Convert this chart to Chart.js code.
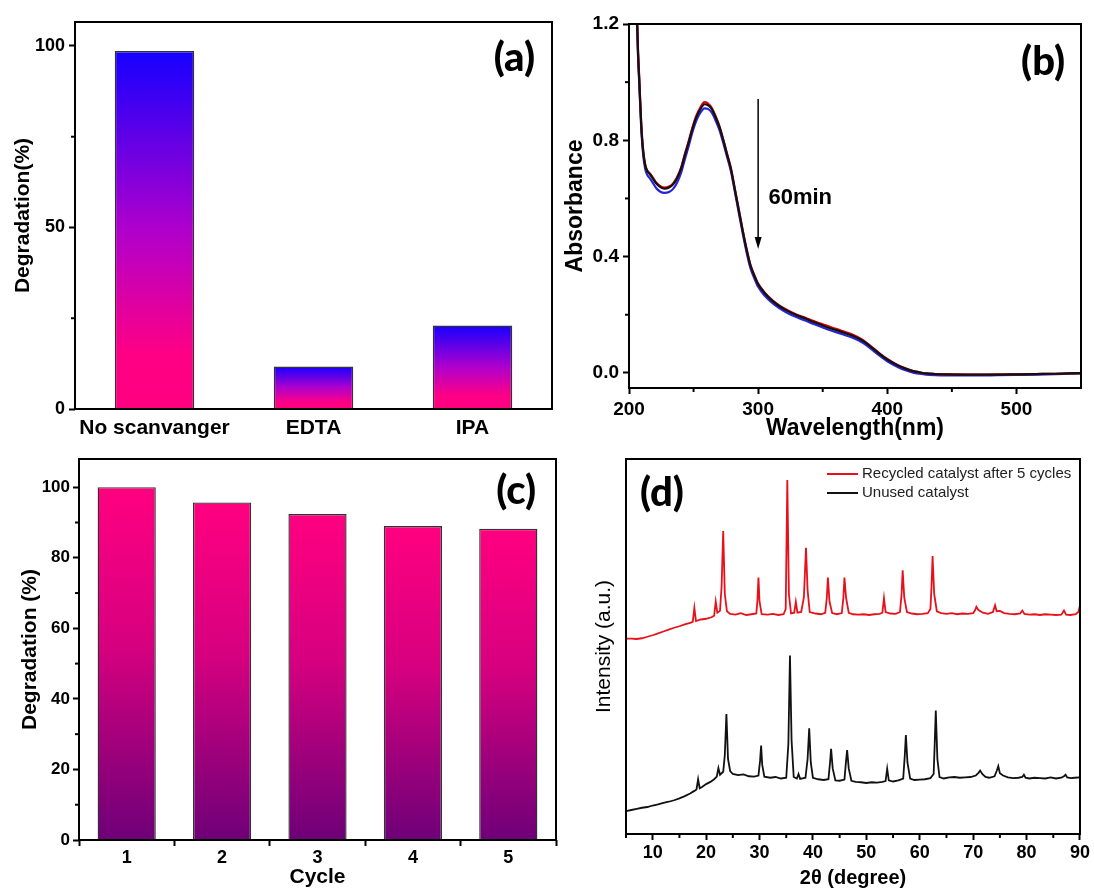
<!DOCTYPE html>
<html>
<head>
<meta charset="utf-8">
<script src="https://cdn.jsdelivr.net/npm/chart.js@4.4.0/dist/chart.umd.min.js"></script>
<style>
  body { margin: 0; background: #fff; }
  #fig { position: relative; width: 1094px; height: 888px; }
  canvas { position: absolute; }
</style>
</head>
<body>
<div id="fig">
  <canvas id="panelA" width="560" height="445" style="left:0;top:0"></canvas>
  <canvas id="panelB" width="534" height="445" style="left:560px;top:0"></canvas>
  <canvas id="panelC" width="560" height="443" style="left:0;top:445px"></canvas>
  <canvas id="panelD" width="534" height="443" style="left:560px;top:445px"></canvas>
</div>
<script>
// (a) scavenger test
const scavengerLabels = ["No scanvanger", "EDTA", "IPA"];
const scavengerDegradation = [98.6, 11.7, 23.0];
const scavengerTicks = [0, 50, 100];
const scavengerMinor = [25, 75];

// (b) UV-vis spectra
const wavelength = [205, 207, 208, 209.5, 211, 212.5, 214, 216, 218, 221, 224, 227.5, 231, 234, 237, 240.5, 243, 246, 249, 252, 255, 258.5, 261, 264, 267, 270, 273, 276, 279, 282, 285, 288, 291, 294, 297, 300, 305, 310, 316, 322, 330, 337, 343, 350, 357, 364, 370, 375, 380, 385, 390, 395, 400, 405, 410, 415, 420, 425, 430, 437, 445, 455, 470, 485, 500, 515, 530, 540, 550];
const absBlack = [1.40, 1.10, 1.00, 0.85, 0.76, 0.715, 0.695, 0.684, 0.672, 0.652, 0.640, 0.634, 0.638, 0.648, 0.668, 0.705, 0.745, 0.790, 0.838, 0.878, 0.905, 0.924, 0.921, 0.908, 0.880, 0.846, 0.800, 0.750, 0.700, 0.630, 0.560, 0.490, 0.425, 0.370, 0.335, 0.305, 0.275, 0.252, 0.231, 0.215, 0.198, 0.186, 0.175, 0.163, 0.152, 0.142, 0.133, 0.124, 0.113, 0.098, 0.080, 0.062, 0.046, 0.033, 0.022, 0.013, 0.006, 0.002, -0.002, -0.004, -0.005, -0.006, -0.006, -0.006, -0.005, -0.004, -0.003, -0.002, -0.001];
const absRed = [1.41, 1.11, 1.01, 0.855, 0.765, 0.718, 0.697, 0.687, 0.675, 0.655, 0.643, 0.637, 0.641, 0.651, 0.671, 0.708, 0.749, 0.794, 0.842, 0.883, 0.911, 0.931, 0.927, 0.912, 0.884, 0.849, 0.803, 0.753, 0.702, 0.632, 0.562, 0.492, 0.427, 0.372, 0.337, 0.307, 0.277, 0.254, 0.233, 0.217, 0.200, 0.189, 0.178, 0.167, 0.156, 0.146, 0.137, 0.128, 0.116, 0.100, 0.082, 0.064, 0.048, 0.034, 0.023, 0.014, 0.006, 0.002, -0.002, -0.004, -0.005, -0.005, -0.006, -0.005, -0.005, -0.004, -0.003, -0.002, -0.001];
const absBlue = [1.39, 1.09, 0.99, 0.84, 0.75, 0.703, 0.682, 0.670, 0.657, 0.636, 0.624, 0.619, 0.622, 0.632, 0.652, 0.690, 0.731, 0.777, 0.826, 0.866, 0.893, 0.910, 0.908, 0.896, 0.869, 0.836, 0.791, 0.742, 0.692, 0.622, 0.551, 0.481, 0.416, 0.361, 0.326, 0.296, 0.266, 0.244, 0.224, 0.208, 0.191, 0.179, 0.168, 0.156, 0.145, 0.135, 0.126, 0.117, 0.106, 0.091, 0.073, 0.056, 0.040, 0.027, 0.016, 0.008, 0.001, -0.003, -0.006, -0.008, -0.009, -0.009, -0.009, -0.008, -0.007, -0.006, -0.004, -0.003, -0.002];
const wavelengthTicks = [200, 300, 400, 500];
const wavelengthMinor = [250, 350, 450];
const absTicks = [0, 0.4, 0.8, 1.2];
const absMinor = [0.2, 0.6, 1.0];

// (c) recycling
const cycleLabels = ["1", "2", "3", "4", "5"];
const cycleDegradation = [100, 95.7, 92.4, 89.0, 88.2];
const cycleTicks = [0, 20, 40, 60, 80, 100];
const cycleMinor = [10, 30, 50, 70, 90];

// (d) XRD, [2theta, intensity a.u.]
const xrdRecycled = [[5, 52.1], [6, 52.1], [7, 52.0], [8, 52.2], [9, 52.6], [10, 53.0], [11, 53.5], [12, 54.0], [13, 54.5], [14, 55.0], [15, 55.4], [16, 55.9], [17, 56.3], [17.5, 56.6], [17.8, 60.3], [18.1, 56.8], [19, 57.2], [20, 57.4], [21, 57.8], [21.5, 58.2], [21.8, 62.0], [22.1, 59.0], [22.6, 59.5], [22.9, 66], [23.2, 80.8], [23.5, 64], [23.9, 59.4], [24.5, 58.7], [25.5, 58.5], [26.5, 58.9], [27.5, 58.4], [28.5, 58.6], [29.4, 58.8], [29.6, 62], [29.8, 68.4], [30.0, 62], [30.4, 58.6], [31.5, 58.5], [32.5, 58.7], [33.5, 58.4], [34.5, 58.6], [34.9, 60], [35.2, 94.4], [35.5, 64], [35.9, 58.8], [36.5, 59.0], [36.8, 61.9], [37.1, 59.0], [37.8, 59.2], [38.3, 63], [38.7, 76.3], [39.0, 65], [39.4, 59.2], [40.5, 58.8], [41.5, 58.6], [42.3, 59.0], [42.6, 63], [42.8, 68.4], [43.1, 62], [43.6, 58.9], [44.5, 58.6], [45.4, 58.9], [45.7, 63], [45.9, 68.4], [46.2, 63], [46.7, 59.0], [47.5, 58.6], [48.5, 58.5], [49.5, 58.6], [50.5, 58.4], [51.5, 58.6], [52.5, 58.7], [53.0, 59.0], [53.3, 62.9], [53.6, 59.2], [54.5, 58.8], [55.5, 58.7], [56.3, 59.2], [56.6, 64], [56.8, 70.3], [57.1, 63], [57.6, 59.2], [58.5, 58.8], [59.5, 58.6], [60.5, 58.7], [61.5, 58.9], [62.0, 60], [62.2, 66], [62.4, 74.1], [62.7, 64], [63.2, 59.4], [64.0, 58.9], [65, 58.7], [66, 58.9], [67, 58.6], [68, 58.8], [69, 58.7], [70, 58.9], [70.4, 59.8], [70.6, 60.6], [71.0, 59.7], [71.8, 59.0], [72.8, 58.7], [73.7, 59.2], [74.1, 61.0], [74.4, 59.4], [75.0, 59.5], [75.8, 58.9], [76.8, 58.7], [77.8, 58.6], [78.8, 58.8], [79.2, 59.6], [79.6, 58.7], [80.5, 58.5], [81.5, 58.6], [82.5, 58.4], [83.5, 58.6], [84.5, 58.5], [85.5, 58.4], [86.5, 58.5], [87.0, 59.6], [87.4, 58.5], [88.2, 58.4], [89.2, 58.6], [89.7, 59.2], [90, 61.0]];
const xrdUnused = [[5, 6.1], [6, 6.4], [7, 6.7], [8, 7.0], [9, 7.2], [10, 7.6], [11, 7.9], [12, 8.3], [13, 8.6], [14, 9.0], [15, 9.5], [16, 10.1], [17, 10.8], [17.8, 11.5], [18.2, 11.9], [18.5, 14.6], [18.8, 12.2], [19.3, 12.6], [20, 13.3], [20.8, 13.9], [21.5, 14.6], [22.0, 15.3], [22.3, 17.6], [22.6, 15.8], [23.2, 16.6], [23.5, 21], [23.8, 32.0], [24.1, 20], [24.5, 16.8], [25, 16.0], [26, 15.7], [27, 15.9], [28, 15.4], [29, 15.3], [29.8, 15.6], [30.1, 19.5], [30.3, 23.6], [30.5, 18.5], [30.9, 15.3], [32, 15.0], [33, 15.2], [34, 14.8], [35.0, 15.0], [35.4, 24], [35.7, 47.6], [36.0, 25], [36.4, 15.2], [37.0, 14.8], [37.3, 16.0], [37.6, 14.7], [38.6, 15.0], [39.0, 20], [39.3, 28.2], [39.6, 19], [40.0, 15.0], [41, 14.6], [42, 14.4], [42.9, 14.6], [43.2, 19], [43.4, 22.7], [43.7, 17.5], [44.2, 14.3], [45, 14.2], [45.9, 14.5], [46.2, 19.5], [46.4, 22.4], [46.7, 17.5], [47.2, 14.2], [48, 13.9], [49, 13.8], [50, 13.6], [51, 13.8], [52, 13.7], [53, 13.9], [53.6, 14.1], [53.9, 17.4], [54.2, 14.3], [55, 14.0], [56, 14.3], [56.9, 14.8], [57.2, 21], [57.4, 26.4], [57.7, 19], [58.2, 14.8], [59, 14.4], [60, 14.5], [61, 14.6], [62, 14.9], [62.6, 16], [62.8, 24], [63.0, 32.9], [63.3, 20], [63.7, 15.2], [64.5, 14.8], [65.5, 15.1], [66.5, 15.2], [67.5, 15.0], [68.5, 15.1], [69.5, 15.2], [70.5, 15.6], [71.0, 16.3], [71.3, 16.9], [71.7, 16.0], [72.3, 15.2], [73, 15.0], [74, 15.4], [74.4, 16.8], [74.7, 18.1], [75.0, 16.2], [75.6, 15.6], [76.5, 15.1], [77.5, 14.9], [78.5, 15.0], [79.2, 15.2], [79.5, 15.8], [79.8, 15.0], [80.5, 14.8], [81.5, 15.0], [82.5, 14.9], [83.5, 14.8], [84.5, 15.1], [85.5, 14.8], [86.5, 15.0], [87.0, 15.4], [87.3, 15.8], [87.6, 15.1], [88.3, 14.9], [89, 15.0], [90, 15.1]];
const thetaTicks = [10, 20, 30, 40, 50, 60, 70, 80, 90];
const thetaMinor = [5, 15, 25, 35, 45, 55, 65, 75, 85];

Chart.defaults.font.family = '"Liberation Sans", Arial, sans-serif';
Chart.defaults.color = "#000";

const bold = (size) => ({ size: size, weight: "bold", lineHeight: 1 });
const setTicks = (values) => (scale) => { scale.ticks = values.map(v => ({ value: v })); };

// per-bar vertical gradient, top colour at the bar top
function barGradient(stops) {
    return function (ctx) {
        const last = stops[stops.length - 1][1];
        if (ctx.type !== "data" || !ctx.chart.chartArea) return last;
        const y = ctx.chart.scales.y;
        const top = y.getPixelForValue(ctx.raw);
        const base = y.getPixelForValue(0);
        const g = ctx.chart.ctx.createLinearGradient(0, top, 0, base);
        stops.forEach(s => g.addColorStop(s[0], s[1]));
        return g;
    };
}

const frame = {
    id: "frame",
    afterDraw(chart) {
        const { ctx, chartArea: a } = chart;
        ctx.save();
        ctx.strokeStyle = "#000";
        ctx.lineWidth = 2;
        ctx.strokeRect(a.left, a.top, a.right - a.left, a.bottom - a.top);
        ctx.restore();
    }
};

const minorTicks = {
    id: "minorTicks",
    afterDraw(chart, args, opts) {
        const { ctx, chartArea: a, scales } = chart;
        ctx.save();
        ctx.strokeStyle = "#000";
        ctx.lineWidth = 2;
        (opts.x || []).forEach(v => {
            const px = scales.x.getPixelForValue(v);
            ctx.beginPath();
            ctx.moveTo(px, a.bottom);
            ctx.lineTo(px, a.bottom + 4);
            ctx.stroke();
        });
        (opts.y || []).forEach(v => {
            const py = scales.y.getPixelForValue(v);
            ctx.beginPath();
            ctx.moveTo(a.left, py);
            ctx.lineTo(a.left - 4, py);
            ctx.stroke();
        });
        ctx.restore();
    }
};

const panelLabel = {
    id: "panelLabel",
    afterDraw(chart, args, opts) {
        const { ctx, chartArea: a } = chart;
        ctx.save();
        ctx.font = "900 40px Lato, 'Open Sans', sans-serif";
        ctx.fillStyle = "#000";
        ctx.textBaseline = "middle";
        if (opts.side === "left") {
            ctx.textAlign = "left";
            ctx.fillText(opts.text, a.left + opts.dx, a.top + opts.dy);
        } else {
            ctx.textAlign = "right";
            ctx.fillText(opts.text, a.right - opts.dx, a.top + opts.dy);
        }
        ctx.restore();
    }
};

// arrow + "60min" in (b)
const arrowNote = {
    id: "arrowNote",
    afterDatasetsDraw(chart, args, opts) {
        const { ctx, scales } = chart;
        const px = scales.x.getPixelForValue(opts.at);
        const y0 = scales.y.getPixelForValue(opts.from);
        const y1 = scales.y.getPixelForValue(opts.to);
        ctx.save();
        ctx.strokeStyle = "#000";
        ctx.fillStyle = "#000";
        ctx.lineWidth = 1.5;
        ctx.beginPath();
        ctx.moveTo(px, y0);
        ctx.lineTo(px, y1 - 8);
        ctx.stroke();
        ctx.beginPath();
        ctx.moveTo(px - 3.5, y1 - 12);
        ctx.lineTo(px + 3.5, y1 - 12);
        ctx.lineTo(px, y1);
        ctx.closePath();
        ctx.fill();
        ctx.font = 'bold 22px "Liberation Sans", Arial, sans-serif';
        ctx.textBaseline = "middle";
        ctx.fillText(opts.text, scales.x.getPixelForValue(opts.textX), scales.y.getPixelForValue(opts.textY));
        ctx.restore();
    }
};

const lineLegend = {
    id: "lineLegend",
    afterDraw(chart, args, opts) {
        const { ctx, chartArea: a } = chart;
        ctx.save();
        ctx.font = '15px "Liberation Sans", Arial, sans-serif';
        ctx.textBaseline = "middle";
        chart.data.datasets.forEach((ds, i) => {
            const x0 = a.left + opts.left;
            const y = a.top + opts.top + i * opts.gap;
            ctx.strokeStyle = ds.borderColor;
            ctx.lineWidth = 2;
            ctx.beginPath();
            ctx.moveTo(x0, y);
            ctx.lineTo(x0 + 31, y);
            ctx.stroke();
            ctx.fillStyle = "#222";
            ctx.fillText(ds.label, x0 + 35, y);
        });
        ctx.restore();
    }
};

const majorGrid = { drawOnChartArea: false, tickLength: 6, tickWidth: 2, tickColor: "#000" };
const noPlugins = { legend: { display: false }, tooltip: { enabled: false } };

// (a)
new Chart(document.getElementById("panelA"), {
    type: "bar",
    data: {
        labels: scavengerLabels,
        datasets: [{
            data: scavengerDegradation,
            backgroundColor: barGradient([[0, "#1600ff"], [0.5, "#b000cc"], [0.85, "#ff0084"], [1, "#ff0080"]]),
            borderColor: "#333",
            borderWidth: 1.4,
            barPercentage: 0.5,
            categoryPercentage: 1
        }]
    },
    options: {
        responsive: false,
        animation: false,
        layout: { padding: { top: 22, right: 8, left: 0, bottom: 0 } },
        plugins: Object.assign({}, noPlugins, {
            minorTicks: { y: scavengerMinor },
            panelLabel: { text: "(a)", side: "right", dx: 17, dy: 36 }
        }),
        scales: {
            x: {
                grid: { display: false, drawTicks: false },
                border: { display: false },
                ticks: { font: bold(21), padding: 9, autoSkip: false, maxRotation: 0 },
                afterFit: s => { s.height = 36; }
            },
            y: {
                min: 0,
                max: 106.6,
                afterBuildTicks: setTicks(scavengerTicks),
                grid: majorGrid,
                border: { display: false },
                ticks: { font: bold(18), padding: 4 },
                title: { display: true, text: "Degradation(%)", font: bold(21), padding: { top: 13 } },
                afterFit: s => { s.width = 75; }
            }
        }
    },
    plugins: [frame, minorTicks, panelLabel]
});

// (b)
new Chart(document.getElementById("panelB"), {
    type: "line",
    data: {
        datasets: [
            { label: "black", data: wavelength.map((w, i) => ({ x: w, y: absBlack[i] })), borderColor: "#111" },
            { label: "red", data: wavelength.map((w, i) => ({ x: w, y: absRed[i] })), borderColor: "#e00000" },
            { label: "blue", data: wavelength.map((w, i) => ({ x: w, y: absBlue[i] })), borderColor: "#2424d8" }
        ]
    },
    options: {
        responsive: false,
        animation: false,
        layout: { padding: { top: 24, right: 13, left: 0, bottom: 0 } },
        datasets: { line: { pointRadius: 0, borderWidth: 2.2, cubicInterpolationMode: "monotone", clip: 0 } },
        plugins: Object.assign({}, noPlugins, {
            minorTicks: { x: wavelengthMinor, y: absMinor },
            panelLabel: { text: "(b)", side: "right", dx: 16, dy: 38 },
            arrowNote: { at: 300, from: 0.942, to: 0.426, text: "60min", textX: 308, textY: 0.603 }
        }),
        scales: {
            x: {
                type: "linear",
                min: 200,
                max: 550,
                afterBuildTicks: setTicks(wavelengthTicks),
                grid: majorGrid,
                border: { display: false },
                ticks: { font: bold(19), padding: 6, maxRotation: 0 },
                title: { display: true, text: "Wavelength(nm)", font: bold(23), padding: { bottom: 5 } },
                afterFit: s => { s.height = 57; }
            },
            y: {
                min: -0.052,
                max: 1.2,
                afterBuildTicks: setTicks(absTicks),
                grid: majorGrid,
                border: { display: false },
                ticks: { font: bold(19), padding: 4, callback: v => v.toFixed(1) },
                title: { display: true, text: "Absorbance", font: bold(23), padding: { top: 4 } },
                afterFit: s => { s.width = 69; }
            }
        }
    },
    plugins: [frame, minorTicks, panelLabel, arrowNote]
});

// (c)
new Chart(document.getElementById("panelC"), {
    type: "bar",
    data: {
        labels: cycleLabels,
        datasets: [{
            data: cycleDegradation,
            backgroundColor: barGradient([[0, "#ff0080"], [0.45, "#d6007f"], [1, "#6e0078"]]),
            borderColor: "#333",
            borderWidth: 1.4,
            barPercentage: 0.61,
            categoryPercentage: 1
        }]
    },
    options: {
        responsive: false,
        animation: false,
        layout: { padding: { top: 14, right: 4, left: 0, bottom: 0 } },
        plugins: Object.assign({}, noPlugins, {
            minorTicks: { y: cycleMinor },
            panelLabel: { text: "(c)", side: "right", dx: 20, dy: 32 }
        }),
        scales: {
            x: {
                grid: majorGrid,
                border: { display: false },
                ticks: { font: bold(18), padding: 3, autoSkip: false, maxRotation: 0 },
                title: { display: true, text: "Cycle", font: bold(21), padding: { bottom: 0 } },
                afterFit: s => { s.height = 48; }
            },
            y: {
                min: 0,
                max: 108,
                afterBuildTicks: setTicks(cycleTicks),
                grid: majorGrid,
                border: { display: false },
                ticks: { font: bold(17), padding: 3 },
                title: { display: true, text: "Degradation (%)", font: bold(21), padding: { top: 20 } },
                afterFit: s => { s.width = 79; }
            }
        }
    },
    plugins: [frame, minorTicks, panelLabel]
});

// (d)
new Chart(document.getElementById("panelD"), {
    type: "line",
    data: {
        datasets: [
            { label: "Recycled catalyst after 5 cycles", data: xrdRecycled.map(p => ({ x: p[0], y: p[1] })), borderColor: "#e8101a" },
            { label: "Unused catalyst", data: xrdUnused.map(p => ({ x: p[0], y: p[1] })), borderColor: "#111" }
        ]
    },
    options: {
        responsive: false,
        animation: false,
        layout: { padding: { top: 14, right: 13, left: 0, bottom: 0 } },
        datasets: { line: { pointRadius: 0, borderWidth: 1.8, tension: 0, clip: 0 } },
        plugins: Object.assign({}, noPlugins, {
            minorTicks: { x: thetaMinor },
            panelLabel: { text: "(d)", side: "left", dx: 14, dy: 34 },
            lineLegend: { left: 201, top: 15, gap: 19 }
        }),
        scales: {
            x: {
                type: "linear",
                min: 5,
                max: 90,
                afterBuildTicks: setTicks(thetaTicks),
                grid: majorGrid,
                border: { display: false },
                ticks: { font: bold(18), padding: 4, maxRotation: 0 },
                title: { display: true, text: "2θ (degree)", font: bold(20), padding: { bottom: 0 } },
                afterFit: s => { s.height = 54; }
            },
            y: {
                min: 0,
                max: 100,
                grid: { display: false },
                border: { display: false },
                ticks: { display: false },
                title: { display: true, text: "Intensity (a.u.)", font: { size: 21, lineHeight: 1 }, padding: { top: 34 } },
                afterFit: s => { s.width = 66; }
            }
        }
    },
    plugins: [frame, minorTicks, panelLabel, lineLegend]
});
</script>
</body>
</html>
